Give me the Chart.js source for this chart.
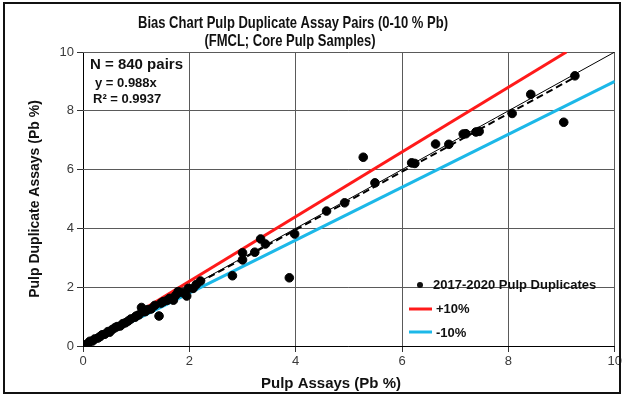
<!DOCTYPE html>
<html>
<head>
<meta charset="utf-8">
<script src="https://cdn.jsdelivr.net/npm/chart.js@4.4.1/dist/chart.umd.min.js"></script>
<style>
  body { margin: 0; background: #fff; }
  #wrap { width: 624px; height: 397px; }
</style>
</head>
<body>
<div id="wrap"><canvas id="biasChart" width="624" height="397"></canvas></div>
<script>
// pulp assay (x) vs pulp duplicate assay (y), Pb %
const pulpAssay = [0, 0.03, 0.06, 0.1, 0.13, 0.18, 0.22, 0.28, 0.32, 0.36, 0.41, 0.47, 0.5, 0.55, 0.6, 0.64, 0.7, 0.75, 0.8, 0.85,
  0.9, 0.98, 1.0, 1.05, 1.1, 1.13, 1.17, 1.22, 1.28, 1.35, 1.43, 1.47, 1.51, 1.58, 1.63, 1.7, 1.74, 1.79, 1.86, 1.95,
  1.98, 2.07, 2.13, 2.21, 2.81, 3.0, 3.0, 3.23, 3.34, 3.43, 3.88, 3.98, 4.58, 4.92, 5.27, 5.49, 6.18, 6.24, 6.63, 6.88,
  7.15, 7.2, 7.39, 7.45, 8.07, 8.42, 9.04, 9.25];
const pulpDuplicate = [0, 0.02, 0.05, 0.1, 0.16, 0.17, 0.24, 0.27, 0.32, 0.38, 0.4, 0.49, 0.47, 0.56, 0.62, 0.66, 0.68, 0.76, 0.79, 0.85,
  0.92, 0.98, 1.02, 1.06, 1.31, 1.17, 1.17, 1.24, 1.26, 1.38, 1.02, 1.46, 1.51, 1.55, 1.62, 1.56, 1.72, 1.85, 1.82, 1.7,
  1.96, 1.96, 2.09, 2.21, 2.39, 3.17, 2.93, 3.19, 3.64, 3.47, 2.32, 3.81, 4.59, 4.87, 6.42, 5.55, 6.23, 6.21, 6.87, 6.86,
  7.21, 7.22, 7.28, 7.3, 7.91, 8.56, 7.61, 9.19];

// reference lines: [x0, y0, x1, y1]
const oneToOneLine = [0, 0, 10, 10];
const plusTenLine = [0, 0, 9.09, 10];
const minusTenLine = [0, 0, 10, 9];
const trendLine = [0, 0, 9.25, 9.14];

const axisTicks = [0, 2, 4, 6, 8, 10];

const titleLines = ['Bias Chart Pulp Duplicate Assay Pairs (0-10 % Pb)', '(FMCL; Core Pulp Samples)'];
const statLines = ['N = 840 pairs', 'y = 0.988x', 'R\u00B2 = 0.9937'];
const legendLabels = ['2017-2020 Pulp Duplicates', '+10%', '-10%'];

const RED = '#ff1a1a';
const BLUE = '#1cb8e8';
const FONT = "'Liberation Sans', Arial, sans-serif";

function toLine(arr) {
  return [{ x: arr[0], y: arr[1] }, { x: arr[2], y: arr[3] }];
}

// text a little taller than wide, like the source picture
function tallText(ctx, text, x, y, sy) {
  ctx.save();
  ctx.translate(x, y);
  ctx.scale(1, sy);
  ctx.fillText(text, 0, 0);
  ctx.restore();
}

const textPlugin = {
  id: 'textPlugin',
  afterDraw(chart) {
    const ctx = chart.ctx;
    ctx.save();
    ctx.fillStyle = '#111';
    ctx.textBaseline = 'alphabetic';

    // title
    ctx.textAlign = 'center';
    ctx.font = `bold 13px ${FONT}`;
    tallText(ctx, titleLines[0], 293, 28, 1.25);
    tallText(ctx, titleLines[1], 290, 46, 1.25);

    // x axis title
    ctx.font = `bold 15px ${FONT}`;
    ctx.fillText('Pulp Assays (Pb %)', 331, 388);

    // stats box
    ctx.textAlign = 'left';
    ctx.font = `bold 15px ${FONT}`;
    ctx.fillText(statLines[0], 90, 69);
    ctx.font = `bold 13px ${FONT}`;
    ctx.fillText(statLines[1], 95, 87);
    ctx.fillText(statLines[2], 93, 103);

    // legend
    ctx.font = `bold 13px ${FONT}`;
    ctx.fillText(legendLabels[0], 433, 289);
    ctx.fillText(legendLabels[1], 436, 313);
    ctx.fillText(legendLabels[2], 436, 337);
    ctx.beginPath();
    ctx.arc(420, 285, 3, 0, Math.PI * 2);
    ctx.fill();
    ctx.lineWidth = 3;
    ctx.strokeStyle = RED;
    ctx.beginPath();
    ctx.moveTo(409, 309);
    ctx.lineTo(432, 309);
    ctx.stroke();
    ctx.strokeStyle = BLUE;
    ctx.beginPath();
    ctx.moveTo(409, 332);
    ctx.lineTo(432, 332);
    ctx.stroke();

    // outer frame
    ctx.strokeStyle = '#111';
    ctx.lineWidth = 2;
    ctx.strokeRect(4, 3, 616, 390);
    ctx.restore();
  }
};

function axisOptions(isX) {
  return {
    type: 'linear',
    min: 0,
    max: 10,
    afterBuildTicks: scale => { scale.ticks = axisTicks.map(v => ({ value: v })); },
    afterFit: scale => {
      if (isX) scale.height = 51;
      else scale.width = 83;
    },
    grid: {
      color: c => (c.tick && c.tick.value === 0 ? '#000' : '#5a5a5a'),
      lineWidth: 1,
      tickLength: 6,
      tickColor: '#333'
    },
    border: { display: false },
    ticks: {
      color: '#3a3a3a',
      font: { family: FONT, size: 13 },
      padding: isX ? 2 : 3,
      maxRotation: 0
    },
    title: isX ? { display: false } : {
      display: true,
      text: 'Pulp Duplicate Assays (Pb %)',
      color: '#111',
      font: { family: FONT, size: 14, weight: 'bold' },
      padding: { top: 27, bottom: 0 }
    }
  };
}

function renderChart() {
  const points = pulpAssay.map((x, i) => ({ x, y: pulpDuplicate[i] }));
  const ctx = document.getElementById('biasChart').getContext('2d');

  new Chart(ctx, {
    type: 'scatter',
    data: {
      datasets: [
        {
          label: 'Trend',
          type: 'line',
          data: toLine(trendLine),
          borderColor: '#000',
          borderWidth: 2,
          borderDash: [7, 4],
          pointRadius: 0,
          order: 0
        },
        {
          label: '2017-2020 Pulp Duplicates',
          data: points,
          backgroundColor: '#000',
          borderColor: '#000',
          pointRadius: 4.3,
          order: 1
        },
        {
          label: '+10%',
          type: 'line',
          data: toLine(plusTenLine),
          borderColor: RED,
          borderWidth: 3,
          pointRadius: 0,
          order: 2
        },
        {
          label: '-10%',
          type: 'line',
          data: toLine(minusTenLine),
          borderColor: BLUE,
          borderWidth: 3,
          pointRadius: 0,
          order: 2
        },
        {
          label: '1:1',
          type: 'line',
          data: toLine(oneToOneLine),
          borderColor: '#000',
          borderWidth: 1,
          pointRadius: 0,
          order: 3
        }
      ]
    },
    options: {
      responsive: false,
      animation: false,
      layout: { padding: { top: 52, right: 9, left: 0, bottom: 0 } },
      scales: {
        x: axisOptions(true),
        y: axisOptions(false)
      },
      plugins: {
        legend: { display: false },
        title: { display: false },
        tooltip: { enabled: false }
      }
    },
    plugins: [textPlugin]
  });
}

document.addEventListener('DOMContentLoaded', renderChart);
</script>
</body>
</html>
